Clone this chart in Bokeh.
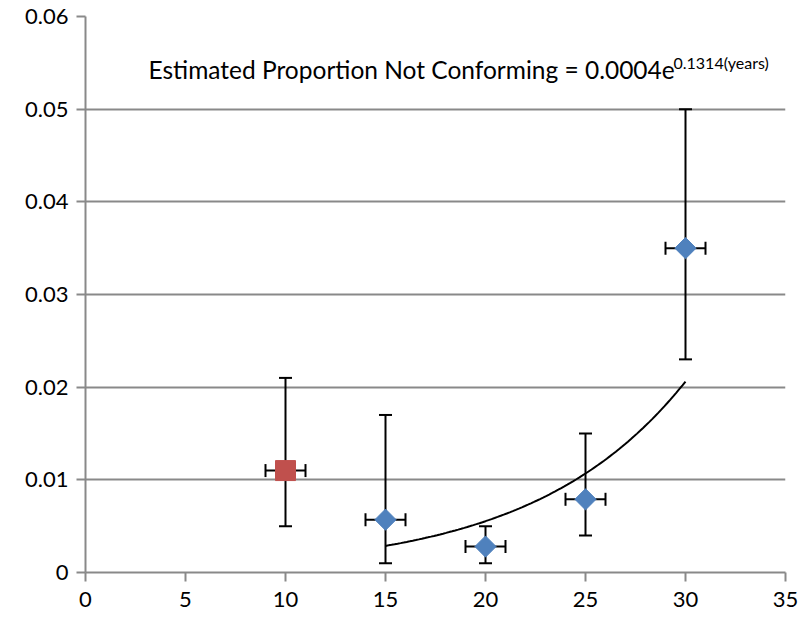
import numpy as np
from bokeh.plotting import figure
from bokeh.models import ColumnDataSource, Whisker, Label, Range1d, FixedTicker
from bokeh.embed import file_html
from bokeh.resources import INLINE

# data
years = [10, 15, 20, 25, 30]
proportion = [0.011, 0.0057, 0.0028, 0.0079, 0.035]
lower = [0.005, 0.001, 0.001, 0.004, 0.023]
upper = [0.021, 0.017, 0.005, 0.015, 0.050]
x_err = [1, 1, 1, 1, 1]
highlight = [True, False, False, False, False]
fit_a = 0.0004
fit_b = 0.1314
fit_start, fit_end = 15, 30
x_ticks = [0, 5, 10, 15, 20, 25, 30, 35]
y_ticks = [0, 0.01, 0.02, 0.03, 0.04, 0.05, 0.06]
y_tick_labels = ["0", "0.01", "0.02", "0.03", "0.04", "0.05", "0.06"]

FONT = "Lato"
GRAY = "#898989"

p = figure(width=800, height=618, output_backend="svg", toolbar_location=None,
           x_range=Range1d(0, 35), y_range=Range1d(0, 0.06),
           min_border_left=85, min_border_right=15, min_border_top=16, min_border_bottom=46)
p.outline_line_color = None
p.background_fill_color = "white"
p.border_fill_color = "white"

for ax in (p.xaxis[0], p.yaxis[0]):
    ax.axis_line_color = GRAY
    ax.axis_line_width = 2
    ax.major_tick_line_color = GRAY
    ax.major_tick_line_width = 2
    ax.major_tick_in = 0
    ax.major_tick_out = 9
    ax.minor_tick_line_color = None
    ax.major_label_text_font = FONT
    ax.major_label_text_font_size = "22px"
    ax.major_label_text_color = "black"
p.xaxis[0].ticker = FixedTicker(ticks=x_ticks)
p.yaxis[0].ticker = FixedTicker(ticks=y_ticks)
p.xaxis[0].major_label_standoff = 10
p.yaxis[0].major_label_standoff = 8
p.yaxis[0].major_label_overrides = dict(zip(y_ticks, y_tick_labels))

p.xgrid.grid_line_color = None
p.ygrid.grid_line_color = GRAY
p.ygrid.grid_line_width = 2
p.ygrid.ticker = FixedTicker(ticks=y_ticks)

src = ColumnDataSource(dict(
    x=years, y=proportion, lo=lower, hi=upper,
    xl=[a - b for a, b in zip(years, x_err)], xh=[a + b for a, b in zip(years, x_err)],
))

for base, lo, hi, dim in (("x", "lo", "hi", "height"), ("y", "xl", "xh", "width")):
    w = Whisker(source=src, base=base, lower=lo, upper=hi, dimension=dim,
                line_color="black", line_width=2)
    for head in (w.upper_head, w.lower_head):
        head.size = 13
        head.line_width = 2
        head.line_color = "black"
    p.add_layout(w)

# trend line from the displayed fit equation
xs = np.linspace(fit_start, fit_end, 100)
p.line(xs, fit_a * np.exp(fit_b * xs), line_color="black", line_width=2)

hx = [x for x, h in zip(years, highlight) if h]
hy = [y for y, h in zip(proportion, highlight) if h]
nx = [x for x, h in zip(years, highlight) if not h]
ny = [y for y, h in zip(proportion, highlight) if not h]
p.scatter(hx, hy, marker="square", size=20, fill_color="#C0504D", line_color="#C0504D")
p.scatter(nx, ny, marker="square", angle=np.pi / 4, size=15,
          fill_color="#4F81BD", line_color="#4F81BD")

p.add_layout(Label(x=63, y=503, x_units="screen", y_units="screen",
                   text="Estimated Proportion Not Conforming = 0.0004e",
                   text_baseline="alphabetic",
                   text_font=FONT, text_font_size="24.5px", text_color="black"))
p.add_layout(Label(x=588, y=510, x_units="screen", y_units="screen",
                   text="0.1314(years)", text_baseline="alphabetic",
                   text_font=FONT, text_font_size="16px", text_color="black"))

open("out.html", "w").write(file_html(p, INLINE))
